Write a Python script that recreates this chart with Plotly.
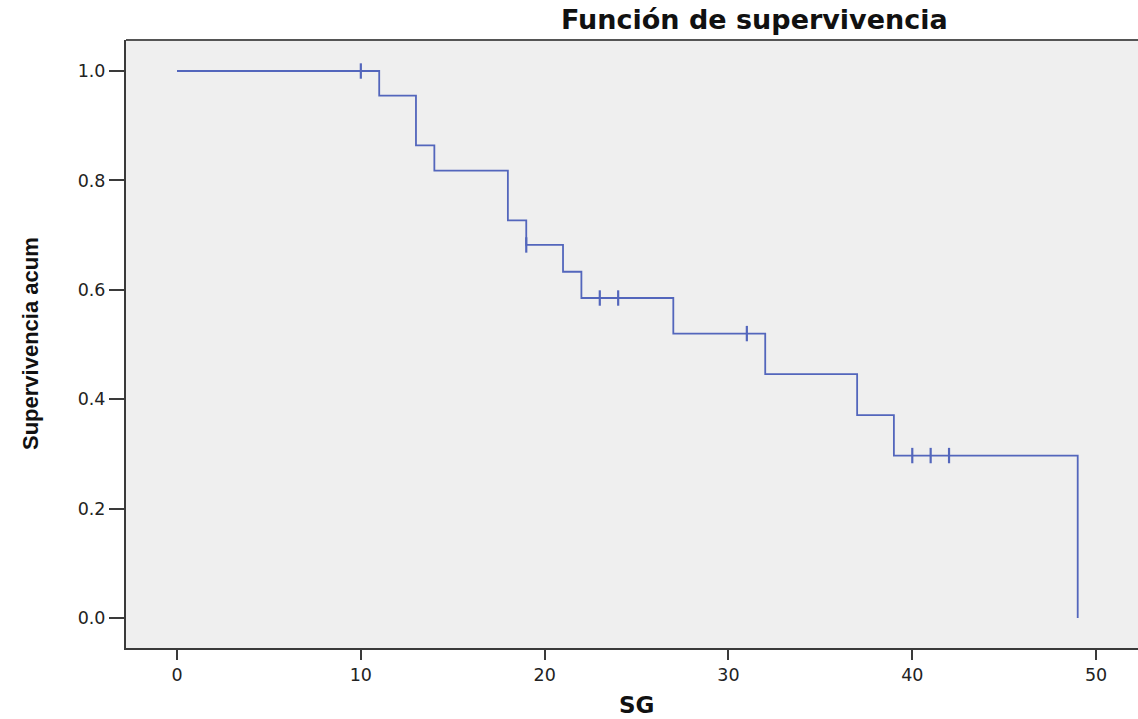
import plotly.graph_objects as go

# Kaplan-Meier estimate: event times and cumulative survival after each step
event_times = [0, 11, 13, 14, 18, 19, 21, 22, 27, 32, 37, 39, 49]
survival = [1.0, 0.955, 0.864, 0.818, 0.727, 0.682, 0.633, 0.585, 0.520, 0.446, 0.371, 0.297, 0.0]

# censored observations
censor_times = [10, 19, 23, 24, 31, 40, 41, 42]
censor_surv = [1.0, 0.682, 0.585, 0.585, 0.520, 0.297, 0.297, 0.297]

x_ticks = [0, 10, 20, 30, 40, 50]
y_ticks = [0.0, 0.2, 0.4, 0.6, 0.8, 1.0]

line_color = "#5366BC"
axis_color = "#3A3A3A"

fig = go.Figure()

fig.add_trace(go.Scatter(
    x=event_times, y=survival, mode="lines",
    line=dict(shape="hv", color=line_color, width=1.8),
    showlegend=False, hoverinfo="skip",
))

fig.add_trace(go.Scatter(
    x=censor_times, y=censor_surv, mode="markers",
    marker=dict(symbol="line-ns", size=11,
                line=dict(color=line_color, width=2.2)),
    showlegend=False, hoverinfo="skip",
))

tick_font = dict(family="DejaVu Sans, Liberation Sans, Arial", size=17.5, color="#222222")

fig.update_layout(
    width=1138, height=719,
    margin=dict(l=126, r=0, t=40, b=71),
    paper_bgcolor="white",
    plot_bgcolor="#EFEFEF",
    xaxis=dict(
        range=[-2.775, 52.28], tickvals=x_ticks,
        ticktext=[str(v) for v in x_ticks],
        ticks="outside", ticklen=10, tickwidth=2, tickcolor=axis_color,
        showline=True, linecolor=axis_color, linewidth=2,
        showgrid=False, zeroline=False, tickfont=tick_font,
    ),
    yaxis=dict(
        range=[-0.0548, 1.0567], tickvals=y_ticks,
        ticktext=[f"{v:.1f}" for v in y_ticks],
        ticks="outside", ticklen=15, tickwidth=1.5, tickcolor=axis_color,
        showline=True, linecolor=axis_color, linewidth=2,
        showgrid=False, zeroline=False, tickfont=tick_font,
    ),
    shapes=[dict(type="line", xref="paper", yref="paper",
                 x0=0, x1=1, y0=1, y1=1,
                 line=dict(color="#555555", width=2))],
    annotations=[
        dict(text="<b>Función de supervivencia</b>", xref="paper", yref="paper",
             x=0.6215, y=1.0329, xanchor="center", yanchor="middle", showarrow=False,
             font=dict(family="DejaVu Sans, Liberation Sans, Arial", size=27, color="#111111")),
        dict(text="<b>SG</b>", xref="paper", yref="paper",
             x=0.504, y=-0.0938, xanchor="center", yanchor="middle", showarrow=False,
             font=dict(family="DejaVu Sans, Liberation Sans, Arial", size=23, color="#111111")),
        dict(text="<b>Supervivencia acum</b>", xref="paper", yref="paper",
             x=-0.0949, y=0.5016, xanchor="center", yanchor="middle", showarrow=False,
             textangle=-90,
             font=dict(family="Liberation Sans Narrow, Arial Narrow, Liberation Sans", size=22,
                       color="#111111")),
    ],
)

fig.write_html("out.html")
